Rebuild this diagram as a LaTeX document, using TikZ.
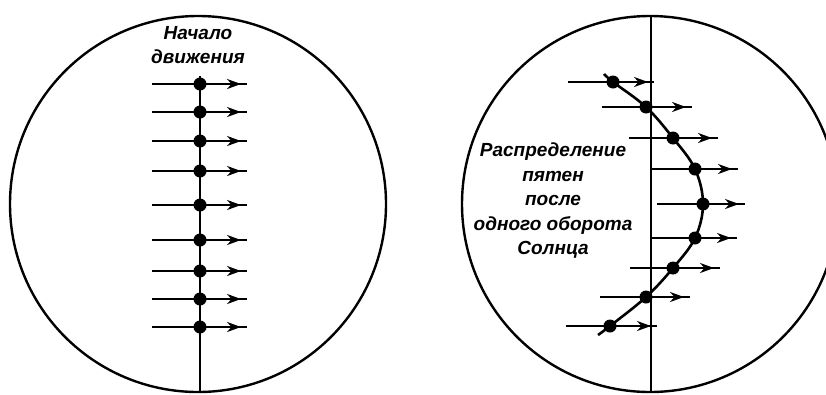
\documentclass[tikz,border=0pt]{standalone}
\usepackage{fontspec}
\newfontfamily\labelfont{Liberation Sans}
\usetikzlibrary{arrows.meta,decorations.markings}

\begin{document}
\begin{tikzpicture}[x=1pt, y=-1pt, >=Stealth,
    disk/.style={line width=2.4pt},
    axis/.style={line width=2.6pt},
    spot/.style={circle, fill, inner sep=0pt, minimum size=13pt},
    motion/.style={line width=2.6pt, postaction={decorate},
        decoration={markings, mark=at position -6pt with {\arrow{Stealth[length=14pt,width=10pt]}}}},
    caption/.style={font=\labelfont\bfseries\itshape\fontsize{19}{24.5}\selectfont, align=center, inner sep=0pt}]
    \useasboundingbox (0,0) rectangle (826,394);

    % левый диск: начало движения
    \draw[disk] (198,204) circle[radius=188pt];
    \node[caption] (start) at (198,45) {Начало\\движения};
    \coordinate (ltop) at (200,76);
    \coordinate (lbot) at (200,392);
    \draw[axis] (ltop) -- (lbot);
    \foreach \y [count=\n] in {84,112,141,171,205,240,271,299,327} {
        \coordinate (la\n) at (152,\y);
        \coordinate (lb\n) at (247,\y);
        \draw[motion] (la\n) -- (lb\n);
        \node[spot] (l\n) at (200,\y) {};
    }

    % правый диск: после одного оборота
    \draw[disk] (650,204) circle[radius=188pt];
    \coordinate (rtop) at (651,16);
    \coordinate (rbot) at (651,392);
    \draw[axis] (rtop) -- (rbot);
    \foreach \xa/\xd/\xb/\y [count=\n] in {568/613/654/82, 602/646/692/107, 629/673/718/138,
        651/695/738/169, 657/703/745/204, 651/695/737/238, 630/673/720/268,
        600/646/690/297, 566/610/657/326} {
        \coordinate (ra\n) at (\xa,\y);
        \coordinate (rb\n) at (\xb,\y);
        \draw[motion] (ra\n) -- (rb\n);
        \node[spot] (r\n) at (\xd,\y) {};
    }
    \coordinate (rhead) at (604,74);
    \coordinate (rtail) at (598,335);
    \draw[axis] plot[smooth, tension=0.6] coordinates {(rhead) (r1.center) (r2.center)
        (r3.center) (r4.center) (r5.center) (r6.center) (r7.center) (r8.center)
        (r9.center) (rtail)};
    \node[caption] (spread) at (553,201) {Распределение\\пятен\\после\\одного оборота\\Солнца};
\end{tikzpicture}
\end{document}
